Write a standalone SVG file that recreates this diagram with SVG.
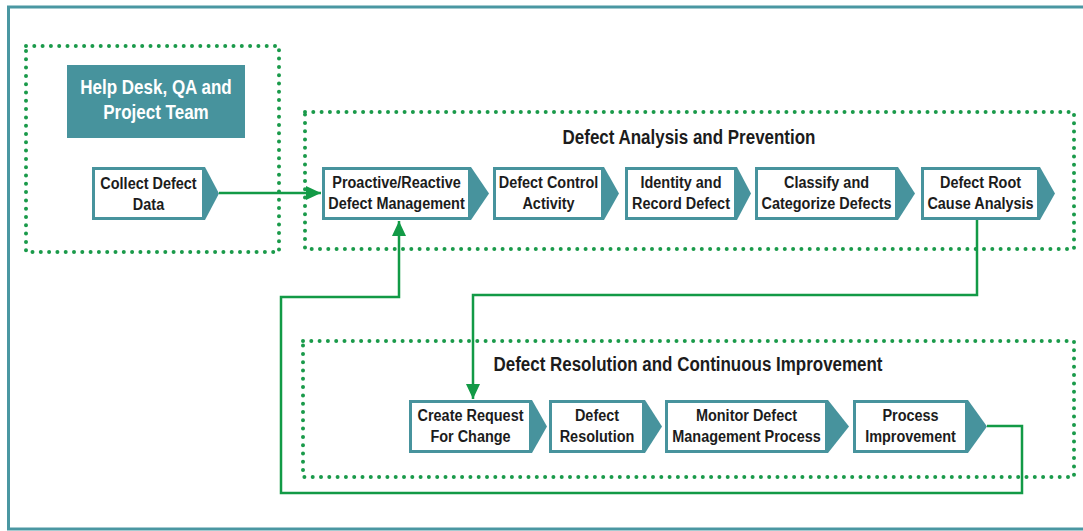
<svg xmlns="http://www.w3.org/2000/svg" width="1083" height="531" viewBox="0 0 1083 531">
<defs>
<style>
.frame{fill:none;stroke:#4a97a2;stroke-width:3}
.dots{fill:none;stroke:#1a9a4a;stroke-width:4;stroke-linecap:round;stroke-dasharray:0 8.3}
.shape{fill:#47939d}
.inner{fill:#ffffff}
.lbl text{font-family:"Liberation Sans",Arial,sans-serif;font-weight:bold;font-size:17px;fill:#1c1c1c;text-anchor:middle}
.title text{font-family:"Liberation Sans",Arial,sans-serif;font-weight:bold;font-size:19.5px;fill:#1c1c1c;text-anchor:middle}
.hd text{font-family:"Liberation Sans",Arial,sans-serif;font-weight:bold;font-size:20px;fill:#ffffff;text-anchor:middle}
.conn{fill:none;stroke:#129a46;stroke-width:2.5}
</style>
<marker id="ah" markerUnits="userSpaceOnUse" markerWidth="16" markerHeight="14" refX="15" refY="7" orient="auto">
<path d="M0,0 L15,7 L0,14 Z" fill="#129a46"/>
</marker>
</defs>
<rect x="0" y="0" width="1083" height="531" fill="#ffffff"/>
<rect class="frame" x="8.5" y="7" width="1090" height="522"/>

<g id="zone-helpdesk">
<rect class="dots" x="26" y="46" width="253" height="206"/>
</g>
<g id="zone-analysis">
<rect class="dots" x="305" y="112" width="769" height="137"/>
<g class="title" transform="translate(689 0) scale(0.87 1)"><text y="144">Defect Analysis and Prevention</text></g>
</g>
<g id="zone-resolution">
<rect class="dots" x="303" y="341" width="771" height="136"/>
<g class="title" transform="translate(688 0) scale(0.87 1)"><text y="371">Defect Resolution and Continuous Improvement</text></g>
</g>

<g id="helpdesk">
<rect class="shape" x="67" y="65" width="178" height="73"/>
<g class="hd" transform="translate(156 0) scale(0.85 1)">
<text y="94">Help Desk, QA and</text>
<text y="119">Project Team</text>
</g>
</g>

<g id="collect">
<path class="shape" d="M92,167 H205 L219,193.5 L205,220 H92 Z"/>
<rect class="inner" x="95" y="170" width="107" height="47"/>
<g class="lbl" transform="translate(148.5 0) scale(0.85 1)">
<text y="189">Collect Defect</text>
<text y="210">Data</text>
</g>
</g>

<g id="proactive">
<path class="shape" d="M322,167 H471 L489,193.5 L471,220 H322 Z"/>
<rect class="inner" x="325" y="170" width="143" height="47"/>
<g class="lbl" transform="translate(396.5 0) scale(0.85 1)">
<text y="188">Proactive/Reactive</text>
<text y="209">Defect Management</text>
</g>
</g>

<g id="control">
<path class="shape" d="M493,167 H604 L619,193.5 L604,220 H493 Z"/>
<rect class="inner" x="496" y="170" width="105" height="47"/>
<g class="lbl" transform="translate(548.5 0) scale(0.85 1)">
<text y="188">Defect Control</text>
<text y="209">Activity</text>
</g>
</g>

<g id="identity">
<path class="shape" d="M625,167 H737 L751,193.5 L737,220 H625 Z"/>
<rect class="inner" x="628" y="170" width="106" height="47"/>
<g class="lbl" transform="translate(681 0) scale(0.85 1)">
<text y="188">Identity and</text>
<text y="209">Record Defect</text>
</g>
</g>

<g id="classify">
<path class="shape" d="M755,167 H898 L915,193.5 L898,220 H755 Z"/>
<rect class="inner" x="758" y="170" width="137" height="47"/>
<g class="lbl" transform="translate(826.5 0) scale(0.85 1)">
<text y="188">Classify and</text>
<text y="209">Categorize Defects</text>
</g>
</g>

<g id="rootcause">
<path class="shape" d="M921,167 H1040 L1055,193.5 L1040,220 H921 Z"/>
<rect class="inner" x="924" y="170" width="113" height="47"/>
<g class="lbl" transform="translate(980.5 0) scale(0.85 1)">
<text y="188">Defect Root</text>
<text y="209">Cause Analysis</text>
</g>
</g>

<g id="request">
<path class="shape" d="M409,400 H532 L547,426.5 L532,453 H409 Z"/>
<rect class="inner" x="412" y="403" width="117" height="47"/>
<g class="lbl" transform="translate(470.5 0) scale(0.85 1)">
<text y="421">Create Request</text>
<text y="442">For Change</text>
</g>
</g>

<g id="resolution">
<path class="shape" d="M549,400 H645 L662,426.5 L645,453 H549 Z"/>
<rect class="inner" x="552" y="403" width="90" height="47"/>
<g class="lbl" transform="translate(597 0) scale(0.85 1)">
<text y="421">Defect</text>
<text y="442">Resolution</text>
</g>
</g>

<g id="monitor">
<path class="shape" d="M665,400 H828 L849,426.5 L828,453 H665 Z"/>
<rect class="inner" x="668" y="403" width="157" height="47"/>
<g class="lbl" transform="translate(746.5 0) scale(0.85 1)">
<text y="421">Monitor Defect</text>
<text y="442">Management Process</text>
</g>
</g>

<g id="improvement">
<path class="shape" d="M853,400 H968 L987,426.5 L968,453 H853 Z"/>
<rect class="inner" x="856" y="403" width="109" height="47"/>
<g class="lbl" transform="translate(910.5 0) scale(0.85 1)">
<text y="421">Process</text>
<text y="442">Improvement</text>
</g>
</g>

<g id="connectors">
<path class="conn" d="M219,193 H321" marker-end="url(#ah)"/>
<path class="conn" d="M977,220 V295 H473 V399" marker-end="url(#ah)"/>
<path class="conn" d="M987,426 H1022 V493 H281 V297 H399 V221" marker-end="url(#ah)"/>
</g>
</svg>
